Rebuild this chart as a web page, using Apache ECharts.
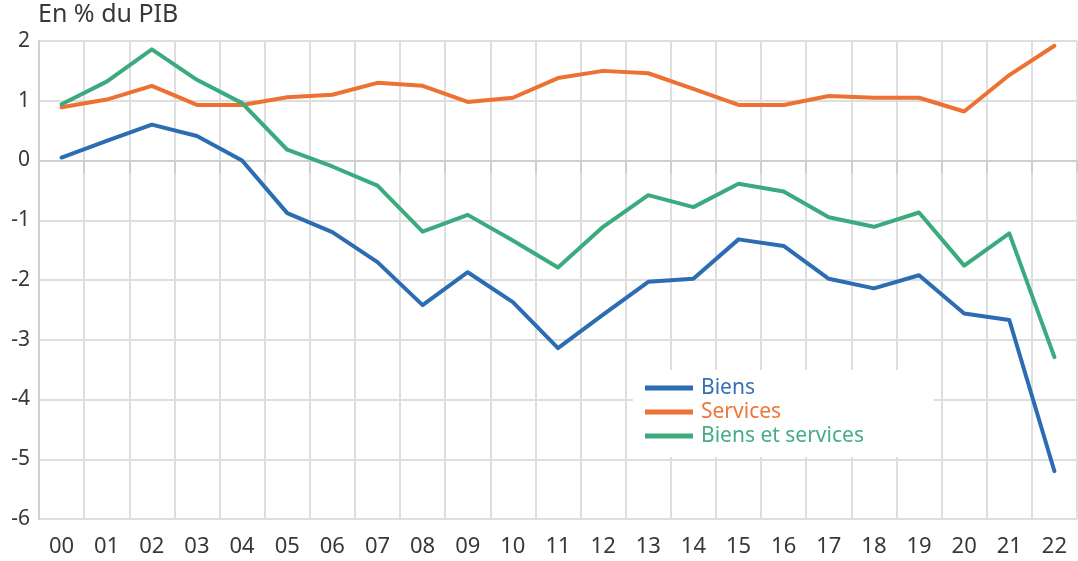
<!DOCTYPE html>
<html>
<head>
<meta charset="utf-8">
<script src="https://cdn.jsdelivr.net/npm/echarts@6/dist/echarts.min.js"></script>
<style>
  html, body { margin: 0; padding: 0; background: #fff; }
  #chart { width: 1078px; height: 561px; }
</style>
</head>
<body>
<div id="chart"></div>
<script>
// années 2000 à 2022
const years = ['00', '01', '02', '03', '04', '05', '06', '07', '08', '09', '10',
  '11', '12', '13', '14', '15', '16', '17', '18', '19', '20', '21', '22'];

const biens = [0.05, 0.33, 0.6, 0.41, 0.0, -0.88, -1.2, -1.7, -2.42, -1.87, -2.37,
  -3.14, -2.58, -2.03, -1.98, -1.32, -1.43, -1.98, -2.14, -1.92, -2.56, -2.67, -5.2];

const services = [0.89, 1.02, 1.25, 0.93, 0.93, 1.06, 1.1, 1.3, 1.25, 0.98, 1.05,
  1.38, 1.5, 1.46, 1.2, 0.93, 0.93, 1.08, 1.05, 1.05, 0.82, 1.43, 1.92];

const biensEtServices = [0.94, 1.32, 1.86, 1.35, 0.96, 0.18, -0.1, -0.42, -1.19, -0.91, -1.34,
  -1.79, -1.11, -0.58, -0.78, -0.39, -0.52, -0.95, -1.11, -0.87, -1.76, -1.22, -3.29];

const yTicks = [-6, -5, -4, -3, -2, -1, 0, 1, 2];

const BLUE = '#2b6cb3';
const ORANGE = '#ec7133';
const GREEN = '#3bab7f';
const FONT = 'Noto Sans';

const chart = echarts.init(document.getElementById('chart'));

function lineSerie(name, data, color) {
  return {
    name: name,
    type: 'line',
    data: data,
    symbol: 'none',
    lineStyle: { width: 4, color: color, cap: 'round', join: 'round' },
    itemStyle: { color: color },
    emphasis: { disabled: true }
  };
}

var option = {
  animation: false,
  backgroundColor: '#ffffff',
  title: {
    text: 'En % du PIB',
    left: 38,
    top: 2,
    padding: 0,
    textStyle: { fontFamily: FONT, fontSize: 25, fontWeight: 'normal', color: '#383838' }
  },
  grid: { left: 39, right: 1, top: 41, bottom: 42 },
  legend: {
    orient: 'vertical',
    left: 633,
    top: 370,
    padding: [6, 70, 9, 12],
    backgroundColor: '#ffffff',
    itemGap: 0,
    itemWidth: 48,
    itemHeight: 5,
    icon: 'rect',
    textStyle: { fontFamily: FONT, fontSize: 21, lineHeight: 24, padding: [0, 0, 0, 3] },
    data: [
      { name: 'Biens', textStyle: { color: '#3470b8' } },
      { name: 'Services', textStyle: { color: '#ee7638' } },
      { name: 'Biens et services', textStyle: { color: '#44ae84' } }
    ]
  },
  xAxis: {
    type: 'category',
    data: years,
    boundaryGap: true,
    axisLine: { show: true, lineStyle: { color: '#cfcfcf', width: 2 } },
    axisTick: { show: true, length: 13, lineStyle: { color: '#cfcfcf', width: 2 } },
    axisLabel: { fontFamily: FONT, fontSize: 22, color: '#383838', margin: 17 },
    splitLine: { show: true, lineStyle: { color: '#dedede', width: 2 } }
  },
  yAxis: {
    type: 'value',
    min: yTicks[0],
    max: yTicks[yTicks.length - 1],
    interval: 1,
    axisLine: { show: true, lineStyle: { color: '#cfcfcf', width: 2 } },
    axisTick: { show: false },
    axisLabel: { fontFamily: FONT, fontSize: 21, color: '#383838', margin: 9 },
    splitLine: { show: true, lineStyle: { color: '#dedede', width: 2 } }
  },
  series: [
    lineSerie('Biens', biens, BLUE),
    lineSerie('Services', services, ORANGE),
    lineSerie('Biens et services', biensEtServices, GREEN)
  ]
};

chart.setOption(option, true);
</script>
</body>
</html>
